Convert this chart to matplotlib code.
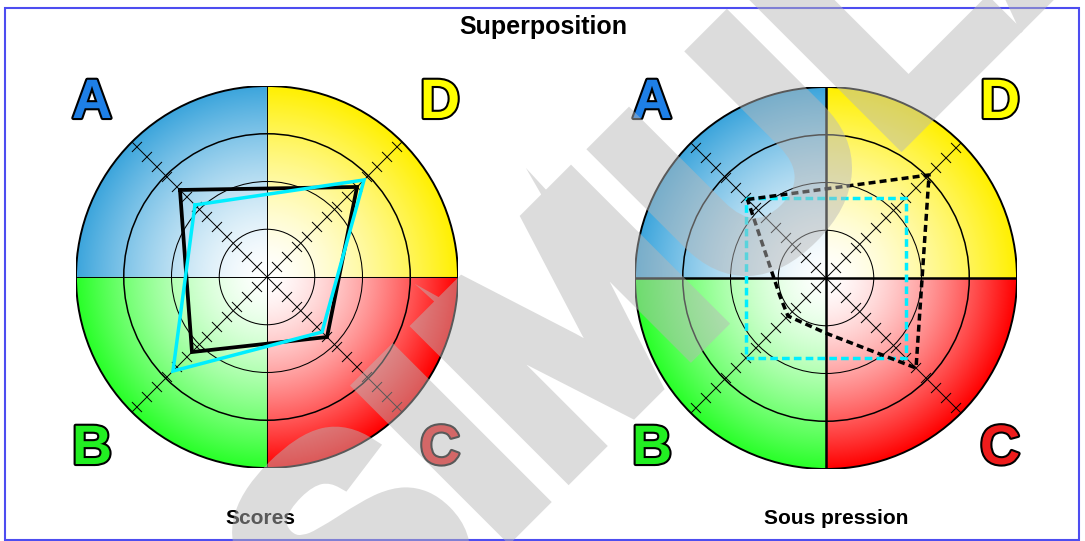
import numpy as np
import matplotlib
matplotlib.use("Agg")
import matplotlib.pyplot as plt
from matplotlib.patches import Circle, Rectangle
from matplotlib.collections import LineCollection
import matplotlib.patheffects as pe

FONT = ['Liberation Sans Narrow', 'Liberation Sans', 'DejaVu Sans']
plt.rcParams['font.family'] = FONT

W, H = 1085, 541
R = 13.5          # outer ring, in score units (one tick = 1 unit)
N_TICKS = 13

# quadrants: name, angle of diagonal, colour
quad_names = ['A', 'D', 'C', 'B']
quad_angles = [135, 45, -45, -135]
quad_colors = {'A': '#3ca5dc', 'D': '#fff000', 'C': '#ff0000', 'B': '#28ff28'}
label_colors = {'A': '#1e7fe6', 'D': '#ffff00', 'C': '#ee1c1c', 'B': '#22ee22'}

# left chart: "Scores"
scores_black = [8.7, 9.0, 6.0, 7.5]   # A, D, C, B
scores_cyan = [7.2, 9.7, 5.5, 9.4]

# right chart: "Sous pression"
press_angles = [135, 45, -45, -90, -135, -157.5]
press_black = [7.85, 10.3, 9.0, 3.9, 3.8, 3.5]
press_cyan = [7.95, 7.95, 7.95, 7.95]   # A, D, C, B

fig = plt.figure(figsize=(W / 100, H / 100), dpi=100)


def rgb(h):
    return np.array(matplotlib.colors.to_rgb(h))


def draw_chart(cx, cy, rpx, thick_axes):
    ax = fig.add_axes([(cx - rpx) / W, 1 - (cy + rpx) / H, 2 * rpx / W, 2 * rpx / H])
    ax.set_xlim(-R, R)
    ax.set_ylim(-R, R)
    ax.axis('off')

    # gradient quadrants
    n = 500
    g = np.linspace(-R, R, n)
    X, Y = np.meshgrid(g, g)
    rr = np.clip(np.hypot(X, Y) / R, 0, 1)
    f = rr ** 1.5
    img = np.ones((n, n, 3))
    for q, (sx, sy) in zip(['A', 'D', 'C', 'B'], [(-1, 1), (1, 1), (1, -1), (-1, -1)]):
        m = (np.sign(X) == sx) & (np.sign(Y) == sy)
        c = rgb(quad_colors[q])
        for k in range(3):
            img[..., k][m] = 1 - f[m] * (1 - c[k])
    im = ax.imshow(img, extent=(-R, R, -R, R), origin='lower', interpolation='bilinear', zorder=1)
    clip = Circle((0, 0), R, transform=ax.transData)
    im.set_clip_path(clip)

    # rings
    for i, lw in zip(range(1, 5), [0.75, 0.75, 1.1, 1.4]):
        ax.add_patch(Circle((0, 0), R * i / 4, fill=False, ec='black', lw=lw, zorder=3))

    # axes
    alw = 1.8 if thick_axes else 0.7
    ax.plot([-R, R], [0, 0], color='black', lw=alw, zorder=3)
    ax.plot([0, 0], [-R, R], color='black', lw=alw, zorder=3)

    # diagonals with ticks
    segs = []
    for a in quad_angles:
        t = np.deg2rad(a)
        u = np.array([np.cos(t), np.sin(t)])
        p = np.array([-np.sin(t), np.cos(t)])
        segs.append([(0, 0), tuple(u * R)])
        for k in range(1, N_TICKS + 1):
            c = u * k
            segs.append([tuple(c - p * 0.5), tuple(c + p * 0.5)])
    ax.add_collection(LineCollection(segs, colors='black', linewidths=0.7, zorder=4))
    return ax


def poly(angles, vals):
    t = np.deg2rad(np.array(angles + angles[:1]))
    v = np.array(vals + vals[:1])
    return v * np.cos(t), v * np.sin(t)


ax1 = draw_chart(267, 277, 191, False)
x, y = poly(quad_angles, scores_black)
ax1.plot(x, y, color='black', lw=2.7, zorder=5, solid_joinstyle='miter')
x, y = poly(quad_angles, scores_cyan)
ax1.plot(x, y, color='#00eeff', lw=2.5, zorder=6, solid_joinstyle='miter')

ax2 = draw_chart(826, 278, 191, True)
x, y = poly(quad_angles, press_cyan)
ax2.plot(x, y, color='#00eeff', lw=2.5, dashes=(2.2, 1.2), zorder=5)
x, y = poly(press_angles, press_black)
ax2.plot(x, y, color='black', lw=2.5, dashes=(2.0, 1.2), zorder=6)

# quadrant letters
outline = [pe.withStroke(linewidth=3, foreground='black')]
for ox in (0, 560):
    for q, (lx, ly) in zip(['A', 'D', 'B', 'C'], [(92, 104), (440, 104), (92, 450), (440, 450)]):
        fig.text((lx + ox) / W, 1 - ly / H, q, ha='center', va='center', fontsize=40,
                 fontweight='bold', color=label_colors[q], path_effects=outline, zorder=10)

fig.text(543 / W, 1 - 27 / H, 'Superposition', ha='center', va='center', fontsize=18, fontweight='bold')
fig.text(260 / W, 1 - 518 / H, 'Scores', ha='center', va='center', fontsize=15, fontweight='bold')
fig.text(836 / W, 1 - 518 / H, 'Sous pression', ha='center', va='center', fontsize=15, fontweight='bold')

# frame
fig.add_artist(Rectangle((5 / W, 1 - 540 / H), 1074 / W, 532 / H, transform=fig.transFigure,
                         fill=False, ec='#4d4df0', lw=1.5, zorder=20))


# watermark: drawn opaque and thickened, then faded as a whole
def fade(img, dpi):
    out = img.copy()
    out[..., 3] *= 0.49
    return out, 0, 0


wm_grey = (0.72, 0.72, 0.72)
wm = fig.text(352 / W, 1 - 690 / H, 'SIMULATION', rotation=45, rotation_mode='anchor',
              ha='left', va='baseline', fontsize=218, fontweight='bold', color=wm_grey,
              zorder=100,
              path_effects=[pe.Stroke(linewidth=12, foreground=wm_grey, joinstyle='miter'),
                            pe.Normal()])
wm.set_agg_filter(fade)

fig.savefig('out.png', dpi=100)
